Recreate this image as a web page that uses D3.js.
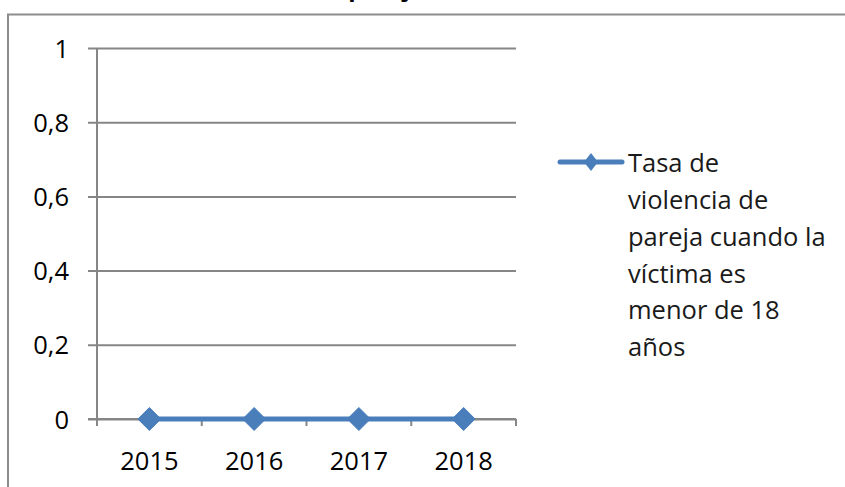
<!DOCTYPE html>
<html>
<head>
<meta charset="utf-8">
<script src="https://cdn.jsdelivr.net/npm/d3@7"></script>
<style>
  html, body { margin: 0; padding: 0; background: #fff; }
  svg { display: block; }
</style>
</head>
<body>
<svg id="chart" width="845" height="487"></svg>
<script>
const years = ["2015", "2016", "2017", "2018"];
const values = [0, 0, 0, 0];
const yTicks = [0, 0.2, 0.4, 0.6, 0.8, 1];
const titleText = "Tasa de violencia de pareja";
const legendLines = ["Tasa de", "violencia de", "pareja cuando la", "víctima es", "menor de 18", "años"];

const FONT = "'Open Sans', 'Liberation Sans', sans-serif";
const BLUE = "#4A7EBB";
const GRID = "#868686";
const FS = 25.5;

const svg = d3.select("#chart");
const plot = { left: 97, right: 516, top: 48, bottom: 419 };

const locale = d3.formatLocale({ decimal: ",", thousands: ".", grouping: [3], currency: ["", ""] });
const fmt = v => locale.format("~g")(v);

const x = d3.scaleBand().domain(years).range([plot.left, plot.right]).paddingInner(0).paddingOuter(0);
const y = d3.scaleLinear().domain([0, 1]).range([plot.bottom, plot.top]);

// outer chart border (cropped)
svg.append("path")
  .attr("d", `M8,487 L8,14.5 L845,14.5`)
  .attr("fill", "none").attr("stroke", "#8c8c8c").attr("stroke-width", 2);

// title (mostly cropped off the top, as in the reference)
const title = svg.append("text")
  .attr("font-family", FONT).attr("font-weight", "bold").attr("font-size", 24)
  .attr("fill", "#000").attr("y", -4).attr("x", 0)
  .text(titleText);
const tmp = svg.append("text").attr("font-family", FONT).attr("font-weight", "bold").attr("font-size", 24)
  .text(titleText.slice(0, titleText.indexOf("pareja")));
const prefixW = tmp.node().getComputedTextLength();
tmp.remove();
title.attr("x", 342 - prefixW);

// gridlines + y ticks
const yAxis = d3.axisLeft(y).tickValues(yTicks).tickSize(-(plot.right - plot.left)).tickSizeOuter(0).tickFormat(fmt);
const gy = svg.append("g").attr("transform", `translate(${plot.left},0)`).call(yAxis);
gy.select(".domain").remove();
gy.selectAll(".tick line").attr("stroke", GRID).attr("stroke-width", 2).attr("x1", -9);
gy.selectAll(".tick text").attr("font-family", FONT).attr("font-size", FS).attr("fill", "#000")
  .attr("x", -28).attr("dy", "0.36em");

// y axis line
svg.append("line").attr("x1", plot.left).attr("x2", plot.left).attr("y1", plot.top).attr("y2", plot.bottom + 7)
  .attr("stroke", GRID).attr("stroke-width", 2);

// x axis
const xAxis = d3.axisBottom(x).tickSize(0).tickPadding(0);
const gx = svg.append("g").attr("transform", `translate(0,${plot.bottom})`).call(xAxis);
gx.select(".domain").remove();
gx.selectAll(".tick text").attr("font-family", FONT).attr("font-size", FS).attr("fill", "#000")
  .attr("y", 51).attr("dy", 0);
svg.append("line").attr("x1", plot.left - 9).attr("x2", plot.right).attr("y1", plot.bottom).attr("y2", plot.bottom)
  .attr("stroke", GRID).attr("stroke-width", 2);
svg.append("g").selectAll("line").data(years).join("line")
  .attr("x1", d => x(d) + x.bandwidth()).attr("x2", d => x(d) + x.bandwidth())
  .attr("y1", plot.bottom).attr("y2", plot.bottom + 7)
  .attr("stroke", GRID).attr("stroke-width", 2);

// series line
const pts = years.map((d, i) => [x(d) + x.bandwidth() / 2, y(values[i])]);
svg.append("path").datum(pts)
  .attr("d", d3.line())
  .attr("fill", "none").attr("stroke", BLUE).attr("stroke-width", 5);

// diamond markers
svg.append("g").selectAll("path").data(pts).join("path")
  .attr("transform", d => `translate(${d[0]},${d[1]})`)
  .attr("d", "M0,-11.5 L11.5,0 L0,11.5 L-11.5,0 Z")
  .attr("fill", BLUE).attr("stroke", BLUE).attr("stroke-width", 1);

// legend
const lg = svg.append("g");
lg.append("line").attr("x1", 560).attr("x2", 622).attr("y1", 162).attr("y2", 162)
  .attr("stroke", BLUE).attr("stroke-width", 5).attr("stroke-linecap", "round");
lg.append("path").attr("transform", "translate(591,162)")
  .attr("d", "M0,-9 L7,0 L0,9 L-7,0 Z").attr("fill", BLUE);
lg.selectAll("text").data(legendLines).join("text")
  .attr("x", 628).attr("y", (d, i) => 163 + i * 36.8).attr("dy", "0.36em")
  .attr("font-family", FONT).attr("font-size", FS).attr("fill", "#1a1a1a")
  .text(d => d);
</script>
</body>
</html>
